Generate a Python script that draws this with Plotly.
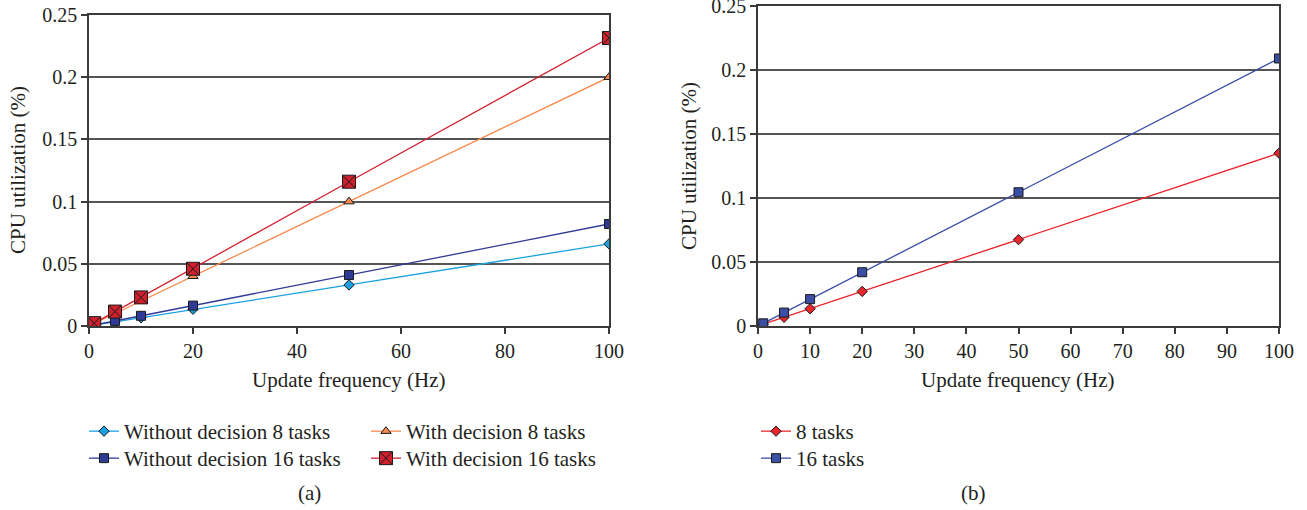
import plotly.graph_objects as go

freq = [1, 5, 10, 20, 50, 100]
# Panel (a)
wo_dec_8 = [0.0007, 0.0033, 0.0066, 0.0135, 0.033, 0.066]
wo_dec_16 = [0.0008, 0.0041, 0.0082, 0.0164, 0.041, 0.082]
w_dec_8 = [0.002, 0.01, 0.02, 0.04, 0.1, 0.2]
w_dec_16 = [0.0023, 0.0116, 0.023, 0.046, 0.116, 0.2315]
# Panel (b)
tasks_8 = [0.0014, 0.0068, 0.0135, 0.027, 0.0675, 0.135]
tasks_16 = [0.0021, 0.0105, 0.021, 0.042, 0.1045, 0.209]

y_ticks = [0, 0.05, 0.1, 0.15, 0.2, 0.25]
y_tick_labels = ["0", "0.05", "0.1", "0.15", "0.2", "0.25"]
xa_ticks = [0, 20, 40, 60, 80, 100]
xb_ticks = list(range(0, 101, 10))

FONT = "Liberation Serif"
TXT = "#231f20"
FS = 21
TFS = 20
W, H = 1307, 510

fig = go.Figure()

def add(x, y, name, color, symbol, size, xa, ya, legend):
    fig.add_trace(go.Scatter(
        x=x, y=y, name=name, mode="lines+markers",
        line=dict(color=color, width=1.3),
        marker=dict(symbol=symbol, size=size, color=color,
                    line=dict(color="#1a1a1a", width=1)),
        xaxis=xa, yaxis=ya, legend=legend))

add(freq, wo_dec_8, "Without decision 8 tasks", "#1ba1e2", "diamond", 8, "x", "y", "legend")
add(freq, wo_dec_16, "Without decision 16 tasks", "#2e3a94", "square", 9, "x", "y", "legend2")
add(freq, w_dec_8, "With decision 8 tasks", "#f68a4e", "triangle-up", 9, "x", "y", "legend3")
add(freq, w_dec_16, "With decision 16 tasks", "#d0202e", "square-x", 13, "x", "y", "legend4")
add(freq, tasks_8, "8 tasks", "#e8262b", "diamond", 8, "x2", "y2", "legend5")
add(freq, tasks_16, "16 tasks", "#3a4ea5", "square", 9, "x2", "y2", "legend6")

def px(v):
    return v / W

def py(v):
    return (H - v) / H

axis_common = dict(showline=True, linecolor="#3a3a3a", linewidth=1.5, mirror=True,
                   ticks="outside", ticklen=6, tickcolor="#3a3a3a", tickwidth=1.5,
                   tickfont=dict(family=FONT, size=TFS, color=TXT), zeroline=False,
                   automargin=False, ticklabeloverflow="allow")

leg = dict(xanchor="left", yanchor="top", font=dict(family=FONT, size=FS, color=TXT),
           bgcolor="rgba(0,0,0,0)", tracegroupgap=0, itemwidth=30)

ROW1, ROW2 = 411, 438
fig.update_layout(
    width=W, height=H,
    margin=dict(l=0, r=0, t=0, b=0, autoexpand=False),
    paper_bgcolor="white", plot_bgcolor="white",
    font=dict(family=FONT, size=FS, color=TXT),
    xaxis=dict(domain=[px(89), px(609)], range=[0, 100], tickvals=xa_ticks,
               showgrid=False, anchor="y", **axis_common),
    yaxis=dict(domain=[py(326), py(15)], range=[0, 0.25], tickvals=y_ticks,
               ticktext=y_tick_labels, showgrid=True, gridcolor="#555555", gridwidth=1.5,
               anchor="x", **axis_common),
    xaxis2=dict(domain=[px(758), px(1279)], range=[0, 100], tickvals=xb_ticks,
                showgrid=False, anchor="y2", **axis_common),
    yaxis2=dict(domain=[py(326), py(6)], range=[0, 0.25], tickvals=y_ticks,
                ticktext=y_tick_labels, showgrid=True, gridcolor="#555555", gridwidth=1.5,
                anchor="x2", **axis_common),
    legend=dict(x=px(84), y=py(ROW1), **leg),
    legend2=dict(x=px(84), y=py(ROW2), **leg),
    legend3=dict(x=px(366), y=py(ROW1), **leg),
    legend4=dict(x=px(366), y=py(ROW2), **leg),
    legend5=dict(x=px(756), y=py(ROW1), **leg),
    legend6=dict(x=px(756), y=py(ROW2), **leg),
    showlegend=True,
)

ann = dict(xref="paper", yref="paper", showarrow=False, xanchor="center", yanchor="middle",
           font=dict(family=FONT, size=FS, color=TXT))
fig.add_annotation(text="Update frequency (Hz)", x=px(349), y=py(380), **ann)
fig.add_annotation(text="Update frequency (Hz)", x=px(1018), y=py(380), **ann)
fig.add_annotation(text="CPU utilization (%)", x=px(18), y=py(170), textangle=-90, **ann)
fig.add_annotation(text="CPU utilization (%)", x=px(689), y=py(166), textangle=-90, **ann)
fig.add_annotation(text="(a)", x=px(309), y=py(493), **ann)
fig.add_annotation(text="(b)", x=px(973), y=py(493), **ann)

fig.write_html("out.html", config={"displayModeBar": False},
               post_script="document.body.style.margin='0px';document.body.style.overflow='hidden';")
